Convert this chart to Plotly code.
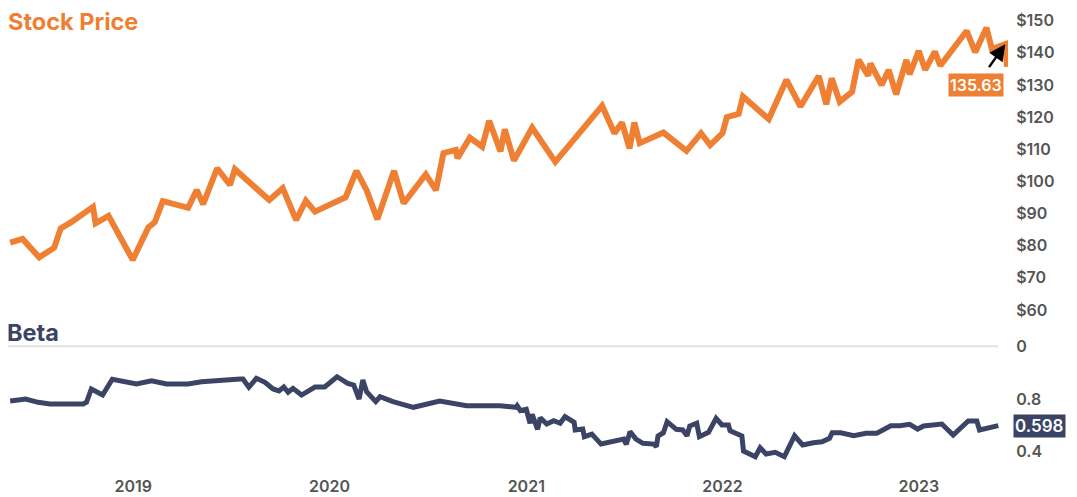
import plotly.graph_objects as go

# ---- data ----
price_dates = [
    "2018-05-17", "2018-06-09", "2018-07-10", "2018-08-07", "2018-08-19", "2018-09-09",
    "2018-10-18", "2018-10-23", "2018-11-16", "2018-12-31", "2019-01-29", "2019-02-10",
    "2019-02-25", "2019-04-13", "2019-04-29", "2019-05-11", "2019-06-06", "2019-06-30",
    "2019-07-09", "2019-09-11", "2019-10-06", "2019-10-31", "2019-11-18", "2019-12-05",
    "2020-01-31", "2020-02-20", "2020-03-10", "2020-03-30", "2020-04-30", "2020-05-18",
    "2020-06-28", "2020-07-17", "2020-07-31", "2020-08-23", "2020-08-26", "2020-09-18",
    "2020-10-11", "2020-10-24", "2020-11-14", "2020-11-22", "2020-12-09", "2021-01-12",
    "2021-02-24", "2021-05-22", "2021-06-14", "2021-06-28", "2021-07-12", "2021-07-21",
    "2021-07-31", "2021-09-13", "2021-10-26", "2021-11-22", "2021-12-09", "2022-01-01",
    "2022-01-09", "2022-01-31", "2022-02-08", "2022-03-28", "2022-04-30", "2022-05-26",
    "2022-06-29", "2022-07-13", "2022-07-23", "2022-08-07", "2022-08-30", "2022-09-11",
    "2022-09-29", "2022-10-03", "2022-10-24", "2022-11-06", "2022-11-20", "2022-12-09",
    "2022-12-15", "2023-01-01", "2023-01-13", "2023-01-31", "2023-02-10", "2023-03-06",
    "2023-03-31", "2023-04-16", "2023-05-07", "2023-05-17", "2023-06-11", "2023-06-14",
]
price_values = [
    81.0, 82.1, 76.4, 79.4, 85.4, 87.5,
    92.1, 87.0, 89.3, 75.6, 85.7, 87.3,
    93.9, 91.8, 97.3, 92.9, 104.1, 98.9,
    103.8, 94.2, 97.9, 88.0, 94.0, 90.6,
    95.1, 103.3, 97.3, 88.2, 103.3, 93.2,
    102.2, 97.3, 108.8, 109.8, 107.2, 113.6,
    110.8, 118.9, 109.3, 116.2, 106.5, 116.7,
    106.1, 123.5, 115.0, 118.3, 110.3, 118.3,
    111.9, 115.2, 109.5, 115.0, 111.3, 115.0,
    120.0, 121.0, 126.4, 119.4, 131.6, 123.3,
    132.8, 124.0, 132.1, 124.8, 127.9, 137.8,
    132.9, 136.7, 130.0, 134.7, 127.1, 137.8,
    133.3, 140.6, 134.7, 140.4, 136.0, 141.6,
    146.8, 140.2, 147.8, 141.2, 142.7, 135.63,
]

beta_dates = [
    "2018-05-17", "2018-06-15", "2018-07-08", "2018-07-30", "2018-09-30", "2018-10-06",
    "2018-10-15", "2018-11-05", "2018-11-23", "2019-01-07", "2019-02-04", "2019-03-04",
    "2019-04-13", "2019-05-08", "2019-07-19", "2019-07-24", "2019-08-04", "2019-08-18",
    "2019-09-03", "2019-09-18", "2019-09-29", "2019-10-08", "2019-10-16", "2019-10-25",
    "2019-11-10", "2019-12-05", "2019-12-23", "2020-01-15", "2020-02-04", "2020-02-15",
    "2020-02-25", "2020-03-03", "2020-03-10", "2020-03-27", "2020-04-04", "2020-04-28",
    "2020-06-05", "2020-07-24", "2020-09-12", "2020-11-13", "2020-12-13", "2020-12-15",
    "2020-12-21", "2021-01-01", "2021-01-08", "2021-01-12", "2021-01-22", "2021-01-27",
    "2021-02-08", "2021-02-21", "2021-03-05", "2021-03-14", "2021-03-31", "2021-04-02",
    "2021-04-16", "2021-04-19", "2021-05-03", "2021-05-20", "2021-07-01", "2021-07-06",
    "2021-07-13", "2021-07-24", "2021-08-06", "2021-08-26", "2021-08-31", "2021-09-03",
    "2021-09-13", "2021-09-20", "2021-10-07", "2021-10-19", "2021-10-27", "2021-11-01",
    "2021-11-14", "2021-11-19", "2021-12-06", "2021-12-20", "2021-12-31", "2022-01-12",
    "2022-01-15", "2022-02-06", "2022-02-09", "2022-03-03", "2022-03-12", "2022-03-23",
    "2022-04-09", "2022-04-26", "2022-05-15", "2022-05-30", "2022-06-19", "2022-07-05",
    "2022-07-19", "2022-07-24", "2022-08-09", "2022-09-02", "2022-09-25", "2022-10-15",
    "2022-11-10", "2022-11-27", "2022-12-15", "2022-12-30", "2023-01-10", "2023-02-13",
    "2023-03-06", "2023-04-03", "2023-04-19", "2023-04-24", "2023-05-29",
]
beta_values = [
    0.785, 0.800, 0.775, 0.762, 0.762, 0.775,
    0.876, 0.830, 0.950, 0.914, 0.939, 0.914,
    0.914, 0.931, 0.952, 0.952, 0.889, 0.957,
    0.927, 0.876, 0.861, 0.891, 0.851, 0.881,
    0.830, 0.891, 0.891, 0.969, 0.919, 0.906,
    0.800, 0.944, 0.855, 0.780, 0.817, 0.780,
    0.737, 0.785, 0.749, 0.749, 0.737, 0.749,
    0.711, 0.722, 0.616, 0.684, 0.570, 0.658,
    0.610, 0.635, 0.616, 0.666, 0.623, 0.565,
    0.572, 0.514, 0.534, 0.458, 0.496, 0.456,
    0.552, 0.496, 0.464, 0.458, 0.438, 0.519,
    0.544, 0.628, 0.570, 0.565, 0.521, 0.595,
    0.616, 0.514, 0.547, 0.654, 0.603, 0.603,
    0.559, 0.519, 0.405, 0.362, 0.430, 0.383,
    0.395, 0.362, 0.521, 0.451, 0.468, 0.476,
    0.502, 0.544, 0.544, 0.521, 0.540, 0.540,
    0.597, 0.597, 0.608, 0.572, 0.595, 0.610,
    0.527, 0.633, 0.633, 0.565, 0.598,
]

year_ticks = ["2019-01-01", "2020-01-01", "2021-01-01", "2022-01-01", "2023-01-01"]
year_labels = ["2019", "2020", "2021", "2022", "2023"]
price_ticks = [60, 70, 80, 90, 100, 110, 120, 130, 140, 150]
price_tick_labels = ["$60", "$70", "$80", "$90", "$100", "$110", "$120", "$130", "$140", "$150"]
beta_ticks = [0.4, 0.8, 1.2]
beta_tick_labels = ["0.4", "0.8", "0"]

last_price_label = "135.63"
last_beta_label = "0.598"

ORANGE = "#EE7F33"
NAVY = "#3C4466"
GREY = "#555555"
FONT = "Inter"

# the page body adds an 8px margin, so the figure is drawn 8px smaller
W, H = 1069, 489
split = 0.2756  # fraction of plot height used by the beta panel

fig = go.Figure()
fig.add_trace(go.Scatter(
    x=price_dates, y=price_values, yaxis="y2", mode="lines",
    line=dict(color=ORANGE, width=6), hoverinfo="skip", showlegend=False,
))
fig.add_trace(go.Scatter(
    x=beta_dates, y=beta_values, yaxis="y", mode="lines",
    line=dict(color=NAVY, width=5), hoverinfo="skip", showlegend=False,
))

tickfont = dict(family=FONT, size=16, color=GREY, weight=600)

fig.update_layout(
    width=W, height=H,
    margin=dict(l=0, r=69, t=0, b=22, pad=0),
    paper_bgcolor="white", plot_bgcolor="white",
    showlegend=False,
    xaxis=dict(
        type="date", range=["2018-05-13", "2023-06-16"], anchor="y",
        tickvals=year_ticks, ticktext=year_labels, tickfont=tickfont,
        showgrid=False, zeroline=False, showline=False,
        ticks="", automargin=False,
    ),
    yaxis=dict(
        domain=[0, split], range=[0.2232, 1.2], side="right", anchor="x",
        tickvals=beta_ticks, ticktext=beta_tick_labels, tickfont=tickfont,
        showgrid=False, zeroline=False, showline=False,
        ticks="outside", ticklen=4, tickcolor="rgba(0,0,0,0)", automargin=False,
    ),
    yaxis2=dict(
        domain=[split, 1], range=[48.72, 153.95], side="right", anchor="x",
        tickvals=price_ticks, ticktext=price_tick_labels, tickfont=tickfont,
        showgrid=False, zeroline=False, showline=False,
        ticks="outside", ticklen=4, tickcolor="rgba(0,0,0,0)", automargin=False,
    ),
    shapes=[dict(
        type="line", xref="x domain", yref="paper", x0=0, x1=0.99, y0=split, y1=split,
        line=dict(color="#E2E2E2", width=2),
    )],
    annotations=[
        dict(text="Stock Price", xref="paper", yref="paper", x=0, y=1,
             xanchor="left", yanchor="top", xshift=-2, yshift=3, showarrow=False,
             font=dict(family=FONT, size=23.5, color=ORANGE, weight=700)),
        dict(text="Beta", xref="paper", yref="paper", x=0, y=split,
             xanchor="left", yanchor="bottom", xshift=-3, yshift=-3, showarrow=False,
             font=dict(family=FONT, size=23.5, color=NAVY, weight=700)),
        dict(text=last_price_label, x=price_dates[-2], y=price_values[-2], xref="x", yref="y2",
             showarrow=True, ax=-29, ay=41, arrowhead=2, arrowsize=1.3, arrowwidth=2.5,
             arrowcolor="black", startstandoff=8, standoff=0,
             bgcolor=ORANGE, borderpad=1,
             font=dict(family=FONT, size=16, color="white", weight=600)),
        dict(text=last_beta_label, x=1, y=beta_values[-1], xref="paper", yref="y",
             xanchor="left", yanchor="middle", xshift=5, showarrow=False,
             bgcolor=NAVY, borderpad=1,
             font=dict(family=FONT, size=17, color="white", weight=600)),
    ],
)

fig.write_html("out.html")
